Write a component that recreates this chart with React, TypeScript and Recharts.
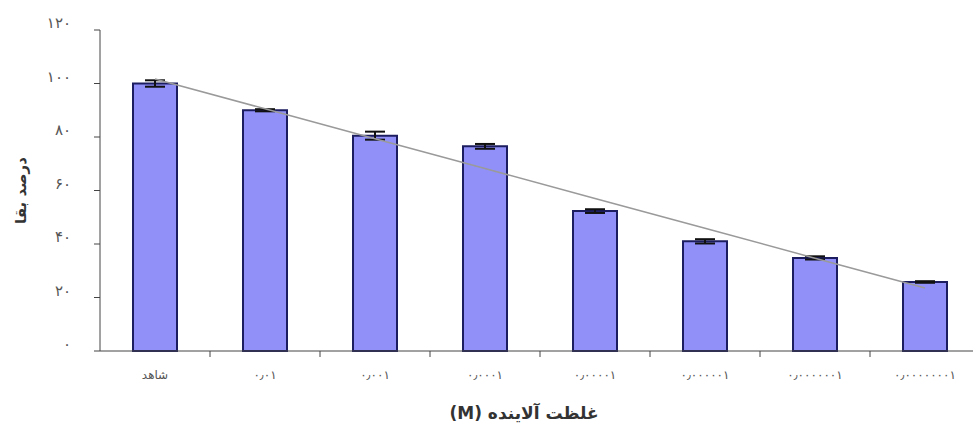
import React from 'react';
import { ComposedChart, Bar, Line, XAxis, YAxis, ErrorBar, Label } from 'recharts';

const categories = ['شاهد', '۰٫۰۱', '۰٫۰۰۱', '۰٫۰۰۰۱', '۰٫۰۰۰۰۱', '۰٫۰۰۰۰۰۱', '۰٫۰۰۰۰۰۰۱', '۰٫۰۰۰۰۰۰۰۱'];
const survival = [100, 90, 80.5, 76.5, 52.3, 41, 34.8, 25.8];
const errors = [1.2, 0.4, 1.5, 0.9, 0.7, 0.8, 0.6, 0.3];
const yTicks = [0, 20, 40, 60, 80, 100, 120];

// linear trendline fitted to the survival values
const n = survival.length;
const xs = survival.map((_, i) => i + 1);
const mx = xs.reduce((a, b) => a + b, 0) / n;
const my = survival.reduce((a, b) => a + b, 0) / n;
const slope =
  xs.reduce((s, x, i) => s + (x - mx) * (survival[i] - my), 0) /
  xs.reduce((s, x) => s + (x - mx) * (x - mx), 0);
const intercept = my - slope * mx;

const data = categories.map((c, i) => ({
  name: c,
  value: survival[i],
  err: errors[i],
  trend: intercept + slope * (i + 1),
}));

const fa = (v: number | string) => String(v).replace(/\d/g, (d) => '۰۱۲۳۴۵۶۷۸۹'[Number(d)]);

const FONT = '"DejaVu Sans", sans-serif';

const XTick = (props: any) => {
  const { x, y, payload } = props;
  const off = payload && typeof payload.offset === 'number' ? payload.offset : 55;
  const isWord = payload.index === 0;
  return (
    <g>
      {payload.index > 0 && (
        <line x1={x - off} y1={y} x2={x - off} y2={y + 6} stroke="#444" strokeWidth={1} />
      )}
      <text x={x} y={y + 28} textAnchor="middle" fontSize={12} letterSpacing={isWord ? 0 : 1.5} fill="#555" fontFamily={FONT}>
        {payload.value}
      </text>
    </g>
  );
};

const YTick = (props: any) => {
  const { x, y, payload } = props;
  return (
    <text x={x} y={y - 2} textAnchor="end" fontSize={15} letterSpacing={1} fill="#555" fontFamily={FONT}>
      {fa(payload.value)}
    </text>
  );
};

export default function App() {
  return (
    <div style={{ position: 'absolute', left: 0, top: 0, width: 973, height: 430, overflow: 'hidden', background: '#fff' }}>
      <ComposedChart
        width={990}
        height={430}
        data={data}
        margin={{ top: 30, right: 10, left: 0, bottom: 0 }}
      >
        <XAxis
          dataKey="name"
          height={79}
          tick={<XTick />}
          tickLine={false}
          tickSize={0}
          tickMargin={0}
          interval={0}
          axisLine={{ stroke: '#444', strokeWidth: 1 }}
        >
          <Label
            value="غلظت آلاینده (M)"
            position="insideBottom"
            offset={11}
            dx={-16}
            style={{ fontFamily: FONT, fontSize: 17, fontWeight: 'bold', fill: '#333', direction: 'rtl', unicodeBidi: 'embed' }}
          />
        </XAxis>
        <YAxis
          width={100}
          domain={[0, 120]}
          ticks={yTicks}
          interval={0}
          tick={<YTick />}
          tickSize={6}
          tickMargin={23}
          tickLine={{ stroke: '#444' }}
          axisLine={{ stroke: '#444', strokeWidth: 1 }}
        >
          <Label
            value="درصد بقا"
            angle={-90}
            position="center"
            dx={-29}
            style={{ fontFamily: FONT, fontSize: 15, fontWeight: 'bold', fill: '#333', textAnchor: 'middle' }}
          />
        </YAxis>
        <Bar
          dataKey="value"
          barSize={44}
          fill="#9090f8"
          stroke="#1c1c60"
          strokeWidth={2}
          isAnimationActive={false}
        >
          <ErrorBar dataKey="err" width={10} stroke="#111" strokeWidth={2} />
        </Bar>
        <Line
          dataKey="trend"
          type="linear"
          stroke="#9a9a9a"
          strokeWidth={1.5}
          dot={false}
          activeDot={false}
          isAnimationActive={false}
        />
      </ComposedChart>
    </div>
  );
}
